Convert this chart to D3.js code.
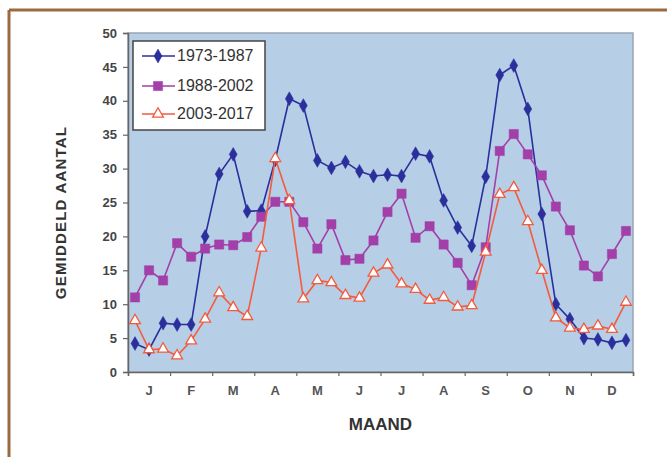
<!DOCTYPE html>
<html>
<head>
<meta charset="utf-8">
<script src="https://cdn.jsdelivr.net/npm/d3@7"></script>
<style>
  html, body { margin: 0; padding: 0; background: #fff; }
  svg { display: block; }
  text { font-family: "Liberation Sans", Arial, sans-serif; }
</style>
</head>
<body>
<svg id="chart" width="667" height="457"></svg>
<script>
const months = ["J","F","M","A","M","J","J","A","S","O","N","D"];
const yTicks = [0,5,10,15,20,25,30,35,40,45,50];
const seriesNames = ["1973-1987","1988-2002","2003-2017"];
const s1973 = [4.2,3.3,7.2, 7.0,7.0,20.0, 29.2,32.1,23.7, 23.8,31.3,40.3,
               39.3,31.2,30.1, 31.0,29.6,28.9, 29.1,28.9,32.2, 31.8,25.3,21.3,
               18.6,28.8,43.8, 45.2,38.8,23.3, 10.0,7.8,5.0, 4.8,4.3,4.7];
const s1988 = [11.0,15.0,13.5, 19.0,17.0,18.2, 18.8,18.7,19.9, 22.9,25.1,25.1,
               22.1,18.2,21.8, 16.5,16.7,19.4, 23.6,26.3,19.8, 21.5,18.8,16.1,
               12.8,18.4,32.6, 35.1,32.1,29.0, 24.4,20.9,15.7, 14.1,17.4,20.8];
const s2003 = [7.6,3.3,3.4, 2.4,4.6,7.8, 11.7,9.5,8.2, 18.3,31.5,25.3,
               10.8,13.5,13.2, 11.3,10.9,14.6, 15.8,13.0,12.2, 10.6,11.0,9.6,
               9.8,17.7,26.2, 27.2,22.2,15.0, 8.0,6.5,6.3, 6.8,6.3,10.3];

const svg = d3.select("#chart");
const L = 128, R = 633, T = 33, B = 372;

// outer brown frame (top + left)
svg.append("line").attr("x1",9).attr("y1",10).attr("x2",667).attr("y2",10)
  .attr("stroke","#9a6b3e").attr("stroke-width",3);
svg.append("line").attr("x1",9).attr("y1",10).attr("x2",9).attr("y2",457)
  .attr("stroke","#9a6b3e").attr("stroke-width",3);

const nPts = months.length * 3;
const x = d3.scaleLinear().domain([0, nPts]).range([L, R]);
const y = d3.scaleLinear().domain([0, 50]).range([B, T]);

// plot area
svg.append("rect").attr("x",L).attr("y",T).attr("width",R-L).attr("height",B-T)
  .attr("fill","#b7cfe6").attr("stroke","#9aa6b4").attr("stroke-width",1.5);

// y axis
const yAxis = svg.append("g").attr("transform",`translate(${L},0)`)
  .call(d3.axisLeft(y).tickValues(yTicks).tickSize(5).tickPadding(6));
yAxis.select(".domain").attr("stroke","#666").attr("stroke-width",1.5);
yAxis.selectAll(".tick line").attr("stroke","#666").attr("stroke-width",1.2);
yAxis.selectAll("text").attr("font-size",13).attr("fill","#444")
  .attr("font-weight","bold").style("font-family","'Liberation Sans Narrow','Liberation Sans',Arial,sans-serif");

// x axis ticks at month boundaries
const xAxis = svg.append("g").attr("transform",`translate(0,${B})`)
  .call(d3.axisBottom(x).tickValues(d3.range(0, nPts+1, 3)).tickSize(4).tickFormat(""));
xAxis.select(".domain").attr("stroke","#666").attr("stroke-width",1.5);
xAxis.selectAll(".tick line").attr("stroke","#666").attr("stroke-width",1.2);

// month labels
svg.append("g").selectAll("text").data(months).join("text")
  .attr("x",(d,i)=>x(i*3+1.5)).attr("y",395)
  .attr("text-anchor","middle").attr("font-size",13).attr("font-weight","bold")
  .attr("fill","#555").text(d=>d);

// axis titles
svg.append("text").attr("x",(L+R)/2).attr("y",430).attr("text-anchor","middle")
  .attr("font-size",17).attr("font-weight","bold").attr("fill","#333").text("MAAND");
svg.append("text").attr("transform",`translate(66,${(T+B)/2+10}) rotate(-90)`)
  .attr("text-anchor","middle").attr("font-size",15).attr("font-weight","bold")
  .attr("letter-spacing",1.2).attr("fill","#333").text("GEMIDDELD AANTAL");

const series = [
  {name: seriesNames[0], values: s1973, color: "#2b2f9c", marker: "diamond"},
  {name: seriesNames[1], values: s1988, color: "#a23fa8", marker: "square"},
  {name: seriesNames[2], values: s2003, color: "#f45a3e", marker: "triangle"}
];

const symbolFor = m => m === "diamond" ? d3.symbol().type(d3.symbolDiamond).size(55)
  : m === "square" ? d3.symbol().type(d3.symbolSquare).size(85)
  : d3.symbol().type(d3.symbolTriangle).size(50);

const line = d3.line().x((d,i)=>x(i+0.5)).y(d=>y(d));

series.forEach(s => {
  const g = svg.append("g");
  g.append("path").datum(s.values).attr("d",line).attr("fill","none")
    .attr("stroke",s.color).attr("stroke-width",1.6);
  g.selectAll("path.m").data(s.values).join("path").attr("class","m")
    .attr("transform",(d,i)=>`translate(${x(i+0.5)},${y(d)})`)
    .attr("d",symbolFor(s.marker)())
    .attr("fill", s.marker === "triangle" ? "#fff" : s.color)
    .attr("stroke", s.color).attr("stroke-width", s.marker === "triangle" ? 1.3 : 0.5);
});

// legend
const lg = svg.append("g");
lg.append("rect").attr("x",133).attr("y",41).attr("width",132).attr("height",89)
  .attr("fill","#fff").attr("stroke","#444").attr("stroke-width",1.5);
const legY = [56, 86, 114];
series.forEach((s,i) => {
  lg.append("line").attr("x1",142).attr("x2",175).attr("y1",legY[i]).attr("y2",legY[i])
    .attr("stroke",s.color).attr("stroke-width",1.6);
  lg.append("path").attr("transform",`translate(158,${legY[i]})`)
    .attr("d",symbolFor(s.marker)())
    .attr("fill", s.marker === "triangle" ? "#fff" : s.color)
    .attr("stroke", s.color).attr("stroke-width", s.marker === "triangle" ? 1.3 : 0.5);
  lg.append("text").attr("x",177).attr("y",legY[i]+5).attr("font-size",14)
    .attr("fill","#333").style("font-family","'Liberation Sans Narrow','Liberation Sans',Arial,sans-serif")
    .attr("font-size",16).text(s.name);
});
</script>
</body>
</html>
